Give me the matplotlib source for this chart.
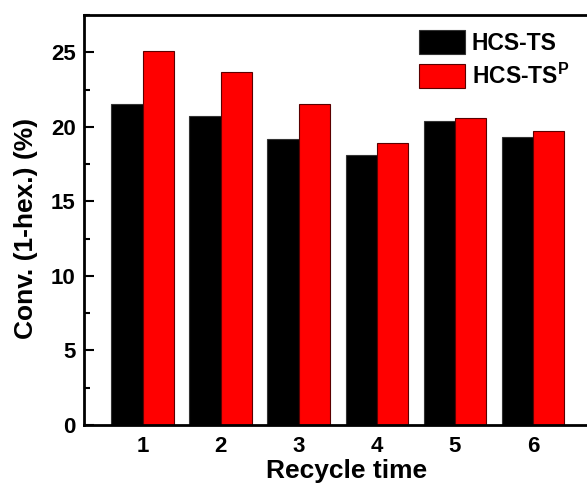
import numpy as np
import matplotlib.pyplot as plt
from matplotlib.ticker import MultipleLocator

plt.rcParams['font.family'] = ['Liberation Sans', 'DejaVu Sans']
plt.rcParams['font.weight'] = 'bold'

cycles = [1, 2, 3, 4, 5, 6]
hcs_ts = [21.5, 20.7, 19.2, 18.1, 20.4, 19.3]
hcs_tsp = [25.1, 23.7, 21.5, 18.9, 20.6, 19.7]
y_ticks = [0, 5, 10, 15, 20, 25]

fig = plt.figure(figsize=(5.87, 4.86), dpi=100)
# right edge sits just past the figure, so the right spine is cut off
ax = fig.add_axes([0.1431, 0.1255, 0.8646, 0.8436])

x = np.array(cycles)
w = 0.4
ax.bar(x - w / 2, hcs_ts, width=w, color='black', edgecolor='#333333',
       linewidth=0.8, label='HCS-TS')
ax.bar(x + w / 2, hcs_tsp, width=w, color='#ff0000', edgecolor='#5a0000',
       linewidth=0.8, label='HCS-TS$^\\mathregular{P}$')

ax.set_xlim(0.25, 6.75)
ax.set_ylim(0, 27.5)
ax.set_xticks(cycles, [str(c) for c in cycles], fontsize=16, fontweight='bold')
ax.set_yticks(y_ticks, [str(t) for t in y_ticks], fontsize=16, fontweight='bold')
ax.yaxis.set_minor_locator(MultipleLocator(2.5))

for s in ax.spines.values():
    s.set_linewidth(2)
ax.tick_params(axis='both', which='major', direction='in', length=7, width=1.5,
               pad=6)
ax.tick_params(axis='y', which='minor', direction='in', length=4, width=1.5)
ax.tick_params(axis='x', which='both', length=0, pad=8)

ax.set_xlabel('Recycle time', fontsize=19, fontweight='bold')
ax.set_ylabel('Conv. (1-hex.) (%)', fontsize=19, fontweight='bold')
ax.xaxis.set_label_coords(0.517, -0.083)
ax.yaxis.set_label_coords(-0.0906, 0.479)

leg = ax.legend(loc='upper left', bbox_to_anchor=(0.642, 0.985), frameon=False,
                prop={'size': 16.5, 'weight': 'bold'}, handlelength=2.0,
                handleheight=1.2, handletextpad=0.3, labelspacing=0.38,
                borderaxespad=0)

fig.savefig('out.png', dpi=100)
